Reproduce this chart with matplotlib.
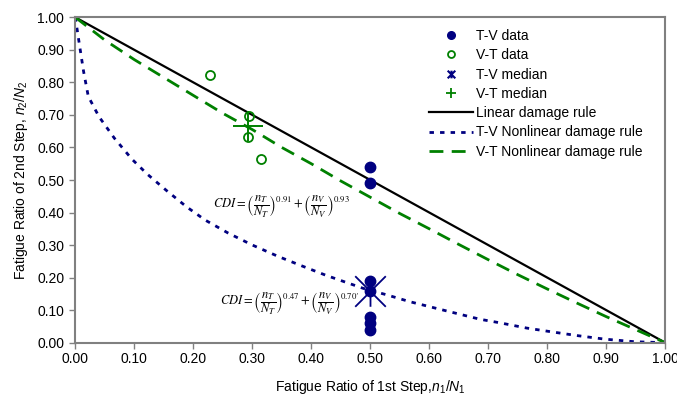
import matplotlib
matplotlib.use("Agg")
import matplotlib.pyplot as plt
from matplotlib.path import Path
from matplotlib.lines import Line2D

plt.rcParams['font.family'] = ['Liberation Sans', 'DejaVu Sans']
plt.rcParams['mathtext.fontset'] = 'custom'
plt.rcParams['mathtext.rm'] = 'Liberation Sans'
plt.rcParams['mathtext.it'] = 'Liberation Sans:italic'

# ---- data ----
linear_x = [0.0, 1.0]
linear_y = [1.0, 0.0]

tv_curve_x = [0.0, 0.007, 0.014, 0.022, 0.040, 0.066, 0.096, 0.122, 0.155, 0.189,
              0.220, 0.259, 0.299, 0.344, 0.384, 0.425, 0.488, 0.528, 0.567, 0.624,
              0.686, 0.720, 0.765, 0.805, 0.850, 0.897, 0.948, 1.0]
tv_curve_y = [1.0, 0.916, 0.834, 0.757, 0.695, 0.629, 0.564, 0.518, 0.467, 0.417,
              0.377, 0.337, 0.301, 0.265, 0.236, 0.207, 0.167, 0.147, 0.126, 0.100,
              0.072, 0.061, 0.045, 0.034, 0.022, 0.011, 0.003, 0.0]

vt_curve_x = [0.0, 0.05, 0.10, 0.15, 0.20, 0.25, 0.30, 0.35, 0.40, 0.45, 0.50,
              0.55, 0.60, 0.65, 0.70, 0.75, 0.80, 0.85, 0.90, 0.95, 1.0]
vt_curve_y = [1.0, 0.93, 0.87, 0.815, 0.76, 0.705, 0.655, 0.60, 0.55, 0.497, 0.447,
              0.397, 0.35, 0.302, 0.255, 0.209, 0.165, 0.122, 0.08, 0.04, 0.0]

tv_data_x = [0.5, 0.5, 0.5, 0.5, 0.5, 0.5, 0.5]
tv_data_y = [0.54, 0.49, 0.19, 0.16, 0.08, 0.06, 0.04]
vt_data_x = [0.228, 0.295, 0.292, 0.315]
vt_data_y = [0.824, 0.698, 0.632, 0.565]
tv_median_x = [0.5]
tv_median_y = [0.16]
vt_median_x = [0.293]
vt_median_y = [0.665]

x_ticks = [0.0, 0.1, 0.2, 0.3, 0.4, 0.5, 0.6, 0.7, 0.8, 0.9, 1.0]
y_ticks = [0.0, 0.1, 0.2, 0.3, 0.4, 0.5, 0.6, 0.7, 0.8, 0.9, 1.0]

legend_labels = ["T-V data", "V-T data", "T-V median", "V-T median",
                 "Linear damage rule", "T-V Nonlinear damage rule",
                 "V-T Nonlinear damage rule"]

NAVY = '#000080'
GREEN = '#008000'
GRAY = '#808080'

star = Path([(-1, -1), (1, 1), (-1, 1), (1, -1), (0, -1), (0, 1)],
            [Path.MOVETO, Path.LINETO, Path.MOVETO, Path.LINETO, Path.MOVETO, Path.LINETO])

fig = plt.figure(figsize=(6.77, 3.96), dpi=100)
ax = fig.add_axes([75.3 / 677, 1 - 342.7 / 396, 590 / 677, 325.4 / 396])

ax.plot(linear_x, linear_y, color='black', lw=1.6, zorder=2)
ax.plot(tv_curve_x, tv_curve_y, color=NAVY, lw=2.0, linestyle=(0, (1.6, 2.2)), zorder=2)
ax.plot(vt_curve_x, vt_curve_y, color=GREEN, lw=2.0, linestyle=(0, (5, 3)), zorder=2)

ax.plot(tv_data_x, tv_data_y, linestyle='none', marker='o', ms=7.5, mfc=NAVY, mec=NAVY, zorder=3)
ax.plot(vt_data_x, vt_data_y, linestyle='none', marker='o', ms=6.5, mfc='none', mec=GREEN,
        mew=1.3, zorder=3)
ax.plot(tv_median_x, tv_median_y, linestyle='none', marker=star, ms=22, mfc='none', mec=NAVY,
        mew=1.3, zorder=4)
ax.plot(vt_median_x, vt_median_y, linestyle='none', marker='+', ms=22, mec=GREEN,
        mew=1.4, zorder=4)

ax.set_xlim(0, 1)
ax.set_ylim(0, 1)
ax.set_xticks(x_ticks)
ax.set_yticks(y_ticks)
ax.set_xticklabels([f"{v:.2f}" for v in x_ticks])
ax.set_yticklabels([f"{v:.2f}" for v in y_ticks])
ax.tick_params(axis='both', direction='out', length=4, width=1, color=GRAY,
               labelsize=10, labelcolor='black')
ax.tick_params(axis='x', pad=3)
ax.tick_params(axis='y', pad=4)
for sp in ax.spines.values():
    sp.set_color(GRAY)
    sp.set_linewidth(1.5)

ax.set_xlabel(r"Fatigue Ratio of 1st Step,$n_1/N_1$", fontsize=10, labelpad=8)
ax.set_ylabel(r"Fatigue Ratio of 2nd Step, $n_2/N_2$", fontsize=10, labelpad=5)

eq1 = r"$CDI=\left(\dfrac{n_T}{N_T}\right)^{0.91}+\left(\dfrac{n_V}{N_V}\right)^{0.93}$"
eq2 = r"$CDI=\left(\dfrac{n_T}{N_T}\right)^{0.47}+\left(\dfrac{n_V}{N_V}\right)^{0.70\prime}$"
ax.text(0.233, 0.417, eq1, fontsize=9, math_fontfamily='stix', ha='left', va='center', zorder=5)
ax.text(0.246, 0.121, eq2, fontsize=9, math_fontfamily='stix', ha='left', va='center', zorder=1)

handles = [
    Line2D([], [], linestyle='none', marker='o', ms=5.5, mfc=NAVY, mec=NAVY),
    Line2D([], [], linestyle='none', marker='o', ms=5, mfc='none', mec=GREEN, mew=1.3),
    Line2D([], [], linestyle='none', marker=star, ms=5.5, mfc='none', mec=NAVY, mew=1.5),
    Line2D([], [], linestyle='none', marker='+', ms=7, mec=GREEN, mew=1.3),
    Line2D([], [], color='black', lw=1.6),
    Line2D([], [], color=NAVY, lw=2.0, linestyle=(0, (1.6, 2.2))),
    Line2D([], [], color=GREEN, lw=2.0, linestyle=(0, (5, 3))),
]
fig.legend(handles, legend_labels, loc='upper left',
           bbox_to_anchor=(429 / 677, 1 - 29 / 396), frameon=False, fontsize=10,
           handlelength=3.2, handletextpad=0.2, labelspacing=0.38, borderpad=0,
           borderaxespad=0)

fig.savefig("out.png", dpi=100)
